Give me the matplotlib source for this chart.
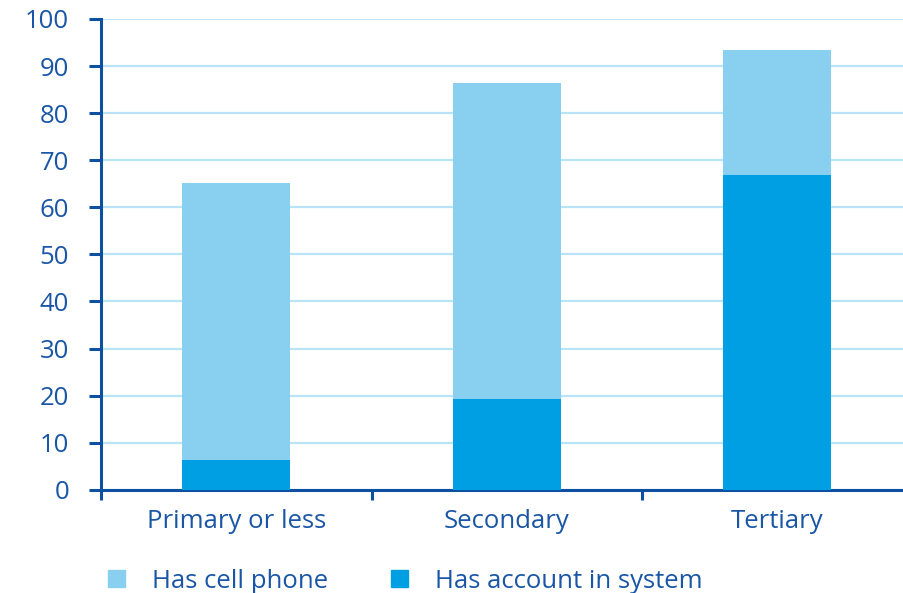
import matplotlib.pyplot as plt
from matplotlib.patches import Patch

# data
categories = ["Primary or less", "Secondary", "Tertiary"]
cell_phone = [65.2, 86.4, 93.4]
account = [6.4, 19.3, 66.9]
yticks = [0, 10, 20, 30, 40, 50, 60, 70, 80, 90, 100]

light = "#89d0f0"
dark = "#009fe3"
axis_col = "#0d4fa0"
text_col = "#1a56a6"
grid_col = "#b9e4f7"

plt.rcParams['font.family'] = ['Open Sans', 'DejaVu Sans']

fig = plt.figure(figsize=(9.04, 5.93), dpi=100)
ax = fig.add_axes([0.112, 0.174, 0.888, 0.794])

x = list(range(len(categories)))
ax.bar(x, cell_phone, width=0.4, color=light, zorder=2)
ax.bar(x, account, width=0.4, color=dark, zorder=3)

ax.set_ylim(0, 100)
ax.set_xlim(-0.5, 2.47)
ax.set_yticks(yticks)
ax.set_yticklabels([str(v) for v in yticks])
ax.yaxis.grid(True, color=grid_col, lw=1.6, zorder=0)
ax.set_axisbelow(True)

ax.set_xticks(x)
ax.set_xticklabels(categories)
ax.set_xticks([-0.5, 0.5, 1.5], minor=True)
ax.tick_params(axis='x', which='major', length=0, pad=14, labelsize=18.5, labelcolor=text_col)
ax.tick_params(axis='x', which='minor', length=7, width=2.2, color=axis_col, direction='out')
ax.tick_params(axis='y', length=9, width=2.2, color=axis_col, pad=14, labelsize=18.5, labelcolor=text_col)

for s in ['top', 'right']:
    ax.spines[s].set_visible(False)
for s in ['left', 'bottom']:
    ax.spines[s].set_color(axis_col)
    ax.spines[s].set_linewidth(2.2)

handles = [Patch(color=light, label="Has cell phone"),
           Patch(color=dark, label="Has account in system")]
fig.legend(handles=handles, loc='lower left', bbox_to_anchor=(0.094, -0.04), ncol=2,
           frameon=False, fontsize=18.5, labelcolor=text_col,
           handlelength=0.65, handleheight=0.65, handletextpad=1.05, columnspacing=2.45)

fig.savefig("out.png", dpi=100)
